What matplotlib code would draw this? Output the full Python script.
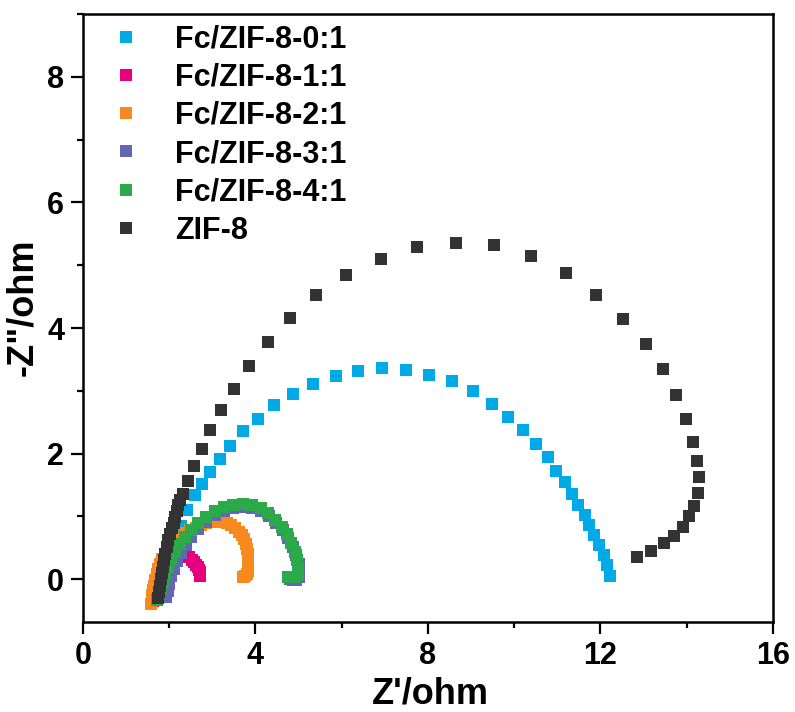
# Nyquist plot: Fc/ZIF-8 samples vs ZIF-8
import matplotlib
matplotlib.use('Agg')
import matplotlib.pyplot as plt
from matplotlib.ticker import MultipleLocator

plt.rcParams['font.family'] = ['Liberation Sans', 'DejaVu Sans']
plt.rcParams['font.weight'] = 'bold'

# Fc/ZIF-8-0:1
fc01_x = [2.05, 2.15, 2.28, 2.42, 2.60, 2.75, 2.94, 3.18, 3.42, 3.72, 4.05, 4.44, 4.88, 5.34, 5.86,
          6.38, 6.94, 7.49, 8.03, 8.55, 9.04, 9.48, 9.86, 10.21, 10.50, 10.78, 10.98, 11.18, 11.33,
          11.49, 11.63, 11.74, 11.86, 11.97, 12.07, 12.14, 12.21]
fc01_y = [0.20, 0.55, 0.85, 1.10, 1.34, 1.52, 1.71, 1.91, 2.13, 2.36, 2.55, 2.77, 2.95, 3.11, 3.24,
          3.32, 3.36, 3.34, 3.26, 3.15, 2.99, 2.79, 2.59, 2.38, 2.16, 1.94, 1.73, 1.55, 1.36,
          1.19, 1.02, 0.86, 0.70, 0.54, 0.38, 0.22, 0.06]

# Fc/ZIF-8-1:1
fc11_x = [1.62, 1.66, 1.72, 1.80, 1.90, 2.02, 2.14, 2.24, 2.34, 2.40, 2.46, 2.52, 2.57, 2.62, 2.67, 2.70, 2.71, 2.71]
fc11_y = [-0.35, -0.20, -0.05, 0.10, 0.22, 0.32, 0.39, 0.43, 0.43, 0.39, 0.35, 0.31, 0.27, 0.23, 0.19, 0.15, 0.11, 0.05]

# Fc/ZIF-8-2:1
fc21_x = [1.58, 1.59, 1.60, 1.62, 1.65, 1.68, 1.72, 1.75, 1.79, 1.84, 1.90, 1.98, 2.06, 2.15, 2.25, 2.36,
          2.48, 2.61, 2.74, 2.86, 2.99, 3.11, 3.22, 3.33, 3.43, 3.53, 3.62, 3.68, 3.73, 3.77, 3.80, 3.82,
          3.83, 3.83, 3.83, 3.82, 3.80, 3.76, 3.71]
fc21_y = [-0.40, -0.32, -0.25, -0.17, -0.10, -0.01, 0.08, 0.16, 0.24, 0.32, 0.40, 0.47, 0.54, 0.61, 0.67, 0.73,
          0.78, 0.82, 0.86, 0.89, 0.91, 0.92, 0.91, 0.89, 0.86, 0.81, 0.76, 0.70, 0.64, 0.56, 0.49, 0.41,
          0.33, 0.26, 0.19, 0.13, 0.08, 0.05, 0.03]

# Fc/ZIF-8-3:1
fc31_x = [1.93, 1.96, 2.00, 2.05, 2.11, 2.18, 2.27, 2.38, 2.51, 2.67, 2.85, 3.05, 3.26, 3.48, 3.70,
          3.92, 4.12, 4.31, 4.48, 4.63, 4.76, 4.87, 4.95, 5.00, 5.02, 5.01, 4.94, 4.86, 4.80]
fc31_y = [-0.28, -0.18, -0.07, 0.05, 0.17, 0.29, 0.42, 0.55, 0.68, 0.80, 0.92, 1.02, 1.09, 1.14, 1.15,
          1.13, 1.08, 1.00, 0.90, 0.79, 0.66, 0.52, 0.38, 0.24, 0.12, 0.03, -0.01, -0.01, 0.00]

# Fc/ZIF-8-4:1
fc41_x = [1.72, 1.76, 1.80, 1.85, 1.90, 1.97, 2.05, 2.14, 2.25, 2.37, 2.51, 2.67, 2.85, 3.05, 3.26, 3.48,
          3.70, 3.92, 4.12, 4.30, 4.46, 4.61, 4.73, 4.83, 4.91, 4.96, 4.99, 4.98, 4.92, 4.84, 4.76]
fc41_y = [-0.33, -0.24, -0.14, -0.02, 0.08, 0.20, 0.32, 0.44, 0.56, 0.67, 0.78, 0.89, 0.99, 1.08, 1.15, 1.19,
          1.20, 1.18, 1.13, 1.05, 0.95, 0.84, 0.72, 0.58, 0.44, 0.30, 0.17, 0.08, 0.04, 0.03, 0.04]

# ZIF-8
zif8_x = [1.75, 1.77, 1.79, 1.81, 1.83, 1.85, 1.88, 1.90, 1.94, 1.98, 2.02, 2.06, 2.10, 2.13, 2.17, 2.21,
          2.26, 2.31, 2.44, 2.57, 2.75, 2.94, 3.19, 3.50, 3.86, 4.28, 4.80, 5.40, 6.11, 6.90, 7.74, 8.64,
          9.53, 10.39, 11.19, 11.89, 12.52, 13.05, 13.46, 13.76, 13.99, 14.15, 14.24, 14.28, 14.25, 14.17,
          14.06, 13.91, 13.71, 13.48, 13.17, 12.85]
zif8_y = [-0.30, -0.20, -0.10, 0.00, 0.10, 0.20, 0.31, 0.41, 0.52, 0.62, 0.72, 0.81, 0.90, 0.99, 1.09, 1.18,
          1.27, 1.36, 1.56, 1.80, 2.07, 2.38, 2.69, 3.03, 3.39, 3.78, 4.16, 4.53, 4.84, 5.10, 5.29, 5.36,
          5.32, 5.15, 4.87, 4.53, 4.14, 3.74, 3.35, 2.94, 2.55, 2.19, 1.89, 1.63, 1.38, 1.17,
          1.00, 0.84, 0.69, 0.57, 0.45, 0.36]

series = [
    (fc01_x, fc01_y, '#00AAE7', 'Fc/ZIF-8-0:1'),
    (fc11_x, fc11_y, '#E6007E', 'Fc/ZIF-8-1:1'),
    (fc21_x, fc21_y, '#F7891F', 'Fc/ZIF-8-2:1'),
    (fc31_x, fc31_y, '#6366B2', 'Fc/ZIF-8-3:1'),
    (fc41_x, fc41_y, '#2BAA4A', 'Fc/ZIF-8-4:1'),
    (zif8_x, zif8_y, '#333333', 'ZIF-8'),
]

fig = plt.figure(figsize=(7.95, 7.12), dpi=100)
ax = fig.add_axes([0.1044, 0.1264, 0.8679, 0.8539])

for xs, ys, col, lab in series:
    ax.plot(xs, ys, linestyle='none', marker='s', markersize=9.3,
            markeredgewidth=0, color=col, label=lab)

ax.set_xlim(0, 16)
ax.set_ylim(-0.68, 9)
ax.xaxis.set_major_locator(MultipleLocator(4))
ax.xaxis.set_minor_locator(MultipleLocator(2))
ax.yaxis.set_major_locator(MultipleLocator(2))
ax.yaxis.set_minor_locator(MultipleLocator(1))

ax.tick_params(which='major', direction='out', length=8.5, width=1.6, labelsize=22, pad=5)
ax.tick_params(which='minor', direction='out', length=4.5, width=1.6)
for lbl in ax.get_xticklabels() + ax.get_yticklabels():
    lbl.set_fontweight('bold')
for sp in ax.spines.values():
    sp.set_linewidth(1.8)

ax.set_xlabel("Z'/ohm", fontsize=26, fontweight='bold')
ax.set_ylabel('-Z"/ohm', fontsize=26, fontweight='bold')
ax.xaxis.set_label_coords(0.503, -0.09)
ax.yaxis.set_label_coords(-0.062, 0.518)

leg = ax.legend(loc='upper left', bbox_to_anchor=(0.04, 0.983), frameon=False,
                fontsize=22, handlelength=1.0, handletextpad=1.1, labelspacing=0.27,
                borderpad=0, borderaxespad=0, markerscale=1.0)
for t in leg.get_texts():
    t.set_fontweight('bold')

fig.savefig('out.png', dpi=100)
